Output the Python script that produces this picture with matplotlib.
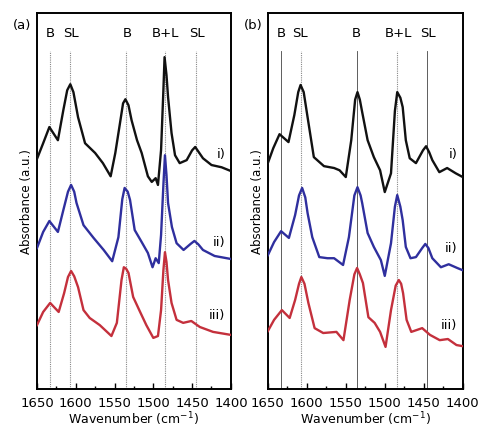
import numpy as np
import matplotlib.pyplot as plt
from matplotlib.ticker import MultipleLocator

# --- панель (a): спектры i), ii), iii) ---
wn_a_i = [1650, 1642, 1634, 1623, 1616, 1611, 1607, 1603, 1597, 1588, 1575, 1565, 1555,
          1549, 1543, 1539, 1536, 1532, 1528, 1521, 1515, 1507, 1502, 1497, 1494, 1490,
          1487, 1485.5, 1483, 1481, 1476.5, 1472, 1466, 1457, 1450, 1446, 1442, 1436,
          1425, 1412, 1400]
abs_a_i = [61.2, 65.4, 69.7, 66.2, 74.2, 79.5, 81.1, 79.0, 72.3, 65.4, 62.8, 60.1, 56.6,
           62.8, 70.7, 76.0, 77.1, 75.5, 71.5, 66.2, 62.8, 56.6, 55.1, 56.1, 54.3, 63.6,
           79.5, 88.3, 83.5, 77.7, 68.1, 62.2, 60.1, 60.9, 63.5, 64.4, 63.2, 61.4,
           59.6, 59.0, 58.0]

wn_a_ii = [1650, 1642, 1634, 1623, 1616, 1610, 1606, 1602, 1599, 1590, 1577, 1564, 1553,
           1545, 1540, 1537, 1533, 1530, 1524, 1515, 1507, 1501, 1497, 1493, 1490, 1487,
           1485, 1483, 1481, 1476, 1470, 1461, 1452, 1447, 1442, 1436, 1421, 1400]
abs_a_ii = [37.5, 41.8, 44.7, 41.8, 47.6, 52.5, 54.3, 52.5, 49.5, 43.6, 40.2, 37.0, 34.0,
            40.4, 50.5, 53.5, 52.5, 50.3, 42.3, 39.1, 36.2, 32.4, 34.8, 33.5, 41.0, 54.3,
            62.2, 56.9, 49.5, 43.1, 38.8, 37.0, 38.6, 39.4, 38.5, 37.0, 35.4, 34.6]

wn_a_iii = [1650, 1642, 1633, 1622, 1615, 1610, 1606, 1602, 1597, 1590, 1582, 1569, 1554,
            1547, 1541, 1538, 1535, 1532, 1526, 1517, 1509, 1500, 1494, 1490, 1487, 1485,
            1483, 1481, 1476.5, 1470, 1461.5, 1451, 1440, 1423, 1400]
abs_a_iii = [17.0, 20.5, 22.9, 20.5, 25.5, 29.8, 31.4, 30.0, 27.1, 21.0, 18.9, 17.0, 14.1,
             17.6, 29.0, 32.4, 32.0, 30.9, 24.5, 20.5, 17.0, 13.6, 14.1, 21.0, 31.6, 36.4,
             33.8, 29.0, 22.9, 18.4, 17.6, 18.1, 16.5, 15.2, 14.4]

# --- панель (b) ---
wn_b_i = [1650, 1643, 1635, 1623.5, 1616, 1611, 1608, 1604, 1599, 1591, 1578, 1565, 1558,
          1550, 1543, 1538, 1535, 1532, 1529, 1522, 1514, 1506, 1500, 1492, 1487, 1484,
          1480, 1477, 1473, 1468, 1460, 1451, 1447, 1443, 1439, 1430, 1420, 1409, 1400]
abs_b_i = [60.1, 64.1, 67.8, 65.7, 72.9, 79.0, 80.9, 79.0, 72.3, 61.7, 59.3, 58.8, 58.2,
           56.4, 66.2, 77.0, 79.0, 77.0, 73.7, 66.2, 61.7, 58.2, 52.4, 57.4, 74.0, 79.0,
           77.5, 75.0, 66.2, 61.4, 60.1, 63.5, 64.6, 63.0, 60.9, 57.7, 58.8, 57.4, 56.4]

wn_b_ii = [1650, 1642, 1633, 1623, 1615, 1610, 1606, 1602, 1599, 1593, 1584, 1573.5, 1565,
           1553.5, 1546, 1539, 1535, 1531, 1529, 1522, 1514, 1505, 1500, 1492, 1487, 1484,
           1480, 1477, 1473, 1467, 1460, 1452, 1448, 1444, 1439, 1428, 1418, 1407, 1400]
abs_b_ii = [35.6, 39.1, 42.0, 40.2, 46.3, 51.5, 53.5, 51.0, 46.8, 40.4, 35.1, 34.8, 34.8,
            33.0, 40.4, 51.5, 53.7, 51.5, 49.5, 41.5, 37.8, 34.3, 30.1, 38.8, 48.5, 51.6,
            48.5, 44.9, 37.8, 34.8, 35.1, 37.5, 38.6, 37.5, 34.8, 32.4, 33.2, 32.2, 31.6]

wn_b_iii = [1650, 1642, 1632, 1622, 1615, 1610, 1607, 1603, 1598, 1590, 1579, 1562, 1553,
            1545, 1539, 1535.5, 1532, 1528, 1521, 1513, 1506, 1499, 1492, 1486, 1482, 1479,
            1476.5, 1472, 1466, 1459, 1452, 1442, 1429.5, 1419, 1408, 1400]
abs_b_iii = [15.4, 18.4, 21.0, 18.9, 23.7, 28.0, 29.8, 28.0, 22.9, 16.2, 14.9, 15.2, 13.0,
             23.7, 30.5, 32.2, 30.5, 28.2, 19.1, 17.6, 15.2, 11.2, 21.0, 27.5, 29.0, 28.0,
             25.5, 18.4, 15.2, 15.7, 16.2, 14.4, 13.0, 13.3, 11.7, 11.4]

# положения полос и подписи
bands_a = [1633, 1607, 1535, 1485.5, 1445]
bands_b = [1633, 1608, 1535.5, 1484, 1446]
band_labels = ["B", "SL", "B", "B+L", "SL"]
label_pos_a = [1633, 1606, 1534, 1485, 1444]
label_pos_b = [1633, 1609, 1536, 1483, 1445]
bands_b_solid = [True, False, True, False, True]

curve_labels = ["i)", "ii)", "iii)"]
colors = ["#111111", "#2f2f9e", "#c4303c"]

panels = [
    ("(a)", [(wn_a_i, abs_a_i), (wn_a_ii, abs_a_ii), (wn_a_iii, abs_a_iii)],
     bands_a, label_pos_a, [False] * 5, [62.5, 39.0, 19.5]),
    ("(b)", [(wn_b_i, abs_b_i), (wn_b_ii, abs_b_ii), (wn_b_iii, abs_b_iii)],
     bands_b, label_pos_b, bands_b_solid, [62.5, 37.5, 17.0]),
]

fig = plt.figure(figsize=(4.8, 4.32), dpi=100)
axes_rect = [[0.077, 0.0995, 0.404, 0.870], [0.558, 0.0995, 0.406, 0.870]]

for rect, (tag, curves, bands, lpos, solid, ylab) in zip(axes_rect, panels):
    ax = fig.add_axes(rect)
    # вертикальные линии полос
    for b, s in zip(bands, solid):
        if s:
            ax.plot([b, b], [0, 90], color="#444444", lw=0.6, zorder=1)
        else:
            ax.plot([b, b], [0, 90], color="#888888", lw=0.8, ls=(0, (1, 1)), zorder=1)
    for x, t in zip(lpos, band_labels):
        ax.text(x, 94.7, t, ha="center", va="center", fontsize=9.5)

    for (wn, ab), c, lab, yl in zip(curves, colors, curve_labels, ylab):
        ax.plot(wn, ab, color=c, lw=1.7, zorder=3, solid_joinstyle="round")
        ax.text(1407, yl, lab, ha="right", va="center", fontsize=9.5)

    ax.set_xlim(1650, 1400)
    ax.set_ylim(0, 100)
    ax.xaxis.set_major_locator(MultipleLocator(50))
    ax.xaxis.set_minor_locator(MultipleLocator(25))
    ax.tick_params(axis="x", which="both", direction="in", top=False, labelsize=9.5, pad=6)
    ax.tick_params(axis="x", which="major", length=4, width=1)
    ax.tick_params(axis="x", which="minor", length=2.5, width=1)
    ax.tick_params(axis="y", left=False, labelleft=False)
    for sp in ax.spines.values():
        sp.set_linewidth(1.4)
    ax.set_xlabel("Wavenumber (cm$^{-1}$)", fontsize=9, labelpad=0)
    ax.set_ylabel("Absorbance (a.u.)", fontsize=8.5, labelpad=3)
    fig.text(rect[0] - 0.05, 0.94, tag, fontsize=9.5, ha="left", va="center")

fig.savefig("out.png", dpi=100)
